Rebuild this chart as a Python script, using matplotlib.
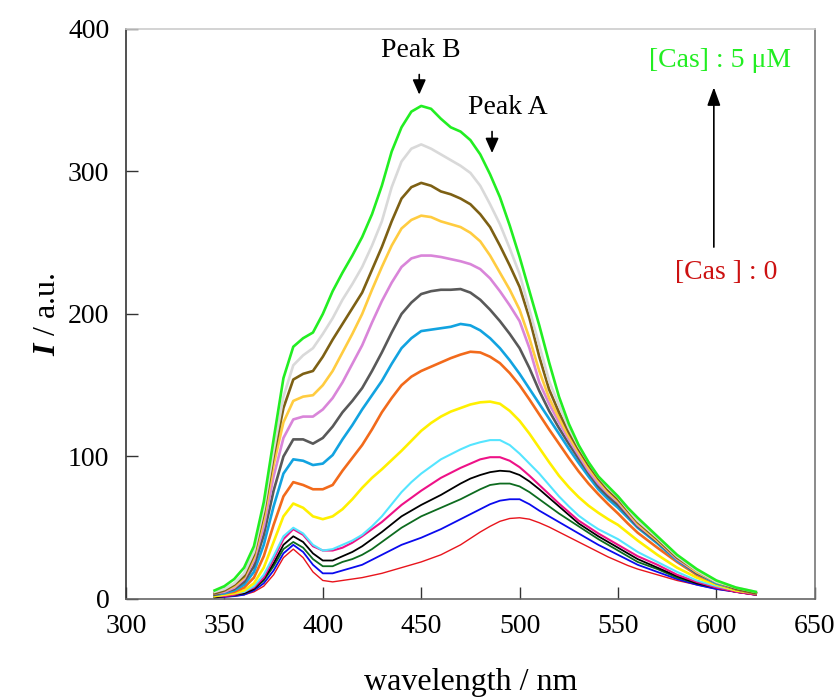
import matplotlib
matplotlib.use('Agg')
import matplotlib.pyplot as plt

plt.rcParams['font.family'] = ['Liberation Serif', 'DejaVu Serif']
plt.rcParams['mathtext.fontset'] = 'custom'
plt.rcParams['mathtext.it'] = 'Liberation Serif:italic:bold'
plt.rcParams['mathtext.rm'] = 'Liberation Serif'

# wavelength grid (nm)
wavelength = [345, 350, 355, 360, 365, 370, 375, 380, 385, 390, 395,
              400, 405, 410, 415, 420, 425, 430, 435, 440, 445, 450, 455, 460, 465, 470,
              475, 480, 485, 490, 495, 500, 505, 510, 515, 520, 525, 530, 535, 540, 545,
              550, 555, 560, 570, 580, 590, 600, 610, 620]

# emission intensity, [Cas] = 0 ... 5 uM (bottom curve to top curve)
i_red = [1, 1.5, 2, 3, 5, 9, 17, 29, 35, 29, 19,
         13, 12, 13, 14, 15, 16.5, 18, 20, 22, 24, 26, 28.5, 31, 34.5, 38,
         42.5, 47, 51, 54.5, 56.5, 57, 56, 53.5, 50.5, 47, 43.5, 40, 36.5, 33, 29.5,
         26.5, 23.5, 21, 17, 13, 10, 7, 5, 3]
i_blue = [1, 1.5, 2, 3, 6, 11, 20, 32, 38, 33, 24,
          18, 18, 20, 22, 24, 27.5, 31, 34.5, 38, 40.5, 43, 46, 49, 52.5, 56,
          59.5, 63, 66.5, 69, 70, 70, 66.5, 62, 58, 54, 50, 46, 42, 38, 34.5,
          31, 27.5, 24, 19, 14, 10, 7, 5, 3]
i_dgreen = [1, 2, 2.5, 4, 7, 13, 23, 35, 40, 36, 28,
            23, 23, 26, 28, 31, 35, 40, 45, 50, 54, 58, 61, 64, 67, 70,
            73.5, 77, 80, 81, 81, 79, 75, 70, 65, 60, 55.5, 51, 46.5, 42, 38,
            34, 30, 26, 21, 15, 11, 8, 5, 3]
i_black = [1, 2, 3, 4, 7, 14, 25, 38, 44, 40, 32,
           27, 27, 30, 33, 37, 42, 47, 52.5, 58, 62, 66, 69.5, 73, 77, 81,
           84.5, 87, 89, 90, 89.5, 87, 82.5, 77, 71, 65, 59, 53, 48.5, 44, 40,
           36, 32, 28, 22, 16, 11, 8, 5, 3]
i_pink = [2, 2, 3, 5, 8, 15, 28, 42, 49, 45, 37,
          34, 34, 36, 39.5, 44, 49, 54, 60, 66, 71, 76, 80.5, 85, 88.5, 92,
          95, 98, 99.5, 99.5, 97, 92.5, 86.5, 80, 73.5, 67, 61, 55, 50.5, 46, 42,
          38, 34, 30, 24, 17, 12, 8, 5, 3]
i_cyan = [2, 3, 4, 5, 9, 17, 30, 44, 50, 46, 38,
          34, 35, 38, 41, 45, 51, 58, 66.5, 75, 82, 88, 93, 98, 101.5, 105,
          108, 110, 111.5, 111.5, 108, 102, 95, 88, 80, 72, 65, 58.5, 53.5, 49, 45.5,
          42, 37.5, 33, 26, 19, 13, 9, 6, 4]
i_yellow = [2, 3, 4, 6, 11, 22, 40, 58, 67, 64, 58,
            56, 58, 63, 70, 78, 85, 91, 97.5, 104, 111, 118, 123.5, 128, 131.5, 134,
            136.5, 138, 138.5, 137, 132, 125, 116, 106, 96, 86.5, 78.5, 71.5, 65.5, 60.5, 56,
            52, 46.5, 41, 31, 22, 15, 10, 6, 4]
i_orange = [3, 4, 5, 8, 15, 30, 52, 72, 82, 80, 77,
            77, 80, 90, 99, 108, 119, 131, 141, 150, 156, 160, 163, 166, 169, 171.5,
            173.5, 173, 170, 165.5, 158.5, 150, 140, 129.5, 119, 109, 99, 89.5, 81, 73.5, 66.5,
            60, 53, 46.5, 36, 26, 17, 11, 7, 4]
i_sky = [3, 4, 6, 10, 19, 38, 65, 88, 98, 97, 94,
         95, 101, 112, 122, 133, 143, 153, 165, 176, 183, 188, 189, 190, 191, 193,
         192, 188.5, 183, 176, 167.5, 158, 147.5, 137, 126.5, 116, 105.5, 95.5, 86, 77, 70,
         64, 57, 50, 39, 27, 18, 11, 7, 4]
i_gray = [3, 5, 7, 12, 23, 45, 76, 100, 112, 112, 109,
          113, 121, 131, 139, 148, 160, 173, 187, 200, 208, 214, 216, 217, 217, 217.5,
          215, 210, 203, 195, 186, 176, 162, 146, 132, 120, 109, 98.5, 88.5, 79, 72,
          66, 58.5, 51, 40, 28, 18, 12, 7, 4]
i_orchid = [4, 5, 8, 14, 27, 51, 86, 113, 126, 128, 128,
            133, 141, 152, 165, 178, 194, 209, 222, 233, 239, 241, 241, 240, 238.5, 237,
            235, 231.5, 225, 216, 206, 195, 176, 152, 137, 124, 112, 101, 90, 81, 74,
            68, 60, 52, 41, 28, 19, 12, 7, 4]
i_gold = [4, 6, 9, 15, 29, 56, 94, 124, 139, 142, 143,
          150, 160, 173, 186, 200, 217, 233, 248, 260, 266, 269, 268, 265, 263, 261,
          257, 251, 241, 229, 217, 203, 183, 160, 141, 127, 114, 103, 92, 83, 75,
          69, 61, 53, 41, 29, 19, 12, 7, 4]
i_olive = [4, 6, 10, 16, 31, 60, 100, 134, 154, 158, 160,
           170, 182, 193, 204, 215, 231, 247, 265, 281, 289, 292, 290, 286, 284, 281,
           277, 270, 261, 248, 234, 219, 197, 170, 147, 131, 117, 105, 94, 84.5, 76.5,
           70, 62, 54, 42, 29, 20, 12, 7, 4]
i_lgray = [5, 7, 11, 18, 33, 63, 104, 142, 164, 171, 176,
           186, 197, 210, 221, 233, 248, 265, 289, 307, 316, 319, 316, 312, 308, 304,
           299, 290, 277, 263, 246, 228, 203, 178, 153, 136, 120, 107, 96, 86, 78,
           71.5, 63, 55, 43, 30, 20, 12, 8, 5]
i_green = [6, 9, 14, 22, 37, 68, 112, 155, 177, 183, 187,
           200, 216, 229, 241, 254, 270, 290, 314, 331, 342, 346, 344, 337, 331, 328,
           322, 312, 298, 282, 262, 240, 216, 192, 166, 142, 123, 108, 96, 86, 79,
           72, 64, 57, 44, 31, 21, 13, 8, 5]

spectra = [i_red, i_blue, i_dgreen, i_black, i_pink, i_cyan, i_yellow, i_orange,
           i_sky, i_gray, i_orchid, i_gold, i_olive, i_lgray, i_green]
colors = ['#e8141c', '#0a0aee', '#0d6b1f', '#000000', '#ee1187', '#55e5ff', '#fff000', '#f26a1b',
          '#12a3e0', '#595959', '#d985d9', '#ffcc40', '#7d6014', '#d9d9d9', '#22ee22']
widths = [1.0, 1.3, 1.3, 1.3, 1.5, 1.5, 1.9, 1.9, 1.9, 1.9, 1.9, 1.9, 1.9, 1.9, 1.9]

fig = plt.figure(figsize=(8.4, 7), dpi=100)
ax = fig.add_axes([0.15, 0.1443, 0.82, 0.8143])

for y, c, lw in zip(spectra, colors, widths):
    ax.plot(wavelength, y, color=c, lw=lw, solid_joinstyle='round')

ax.set_xlim(300, 650)
ax.set_ylim(0, 400)
ax.set_xticks([300, 350, 400, 450, 500, 550, 600, 650])
ax.set_yticks([0, 100, 200, 300, 400])
ax.tick_params(direction='in', length=8.5, width=1, labelsize=20, color='#333333')
ax.tick_params(axis='x', pad=11)
ax.tick_params(axis='y', pad=12)
ax.spines['left'].set_color('#333333')
ax.spines['bottom'].set_color('#666666')
ax.spines['right'].set_color('#777777')
ax.spines['top'].set_color('#cccccc')
for s in ax.spines.values():
    s.set_linewidth(1.2)

ax.set_xlabel('wavelength / nm', fontsize=23, labelpad=21)
ax.set_ylabel('$I$ / a.u.', fontsize=23, labelpad=4)

arrow = dict(arrowstyle='-|>,head_width=0.4,head_length=0.9', color='black', lw=1.2)
ax.text(450, 385, 'Peak B', fontsize=20, ha='center', va='center')
ax.annotate('', xy=(449, 352), xytext=(449, 370), arrowprops=arrow)
ax.text(494, 345, 'Peak A', fontsize=20, ha='center', va='center')
ax.annotate('', xy=(486, 311), xytext=(486, 330), arrowprops=arrow)

ax.text(602, 378, '[Cas] : 5 μM', fontsize=20, ha='center', va='center', color='#22ee22')
ax.text(605, 229, '[Cas ] : 0', fontsize=20, ha='center', va='center', color='#cc1111')
ax.annotate('', xy=(598.7, 361), xytext=(598.7, 245),
            arrowprops=dict(arrowstyle='-|>,head_width=0.4,head_length=1.1', color='black', lw=1.2))

fig.savefig('out.png', dpi=100)
